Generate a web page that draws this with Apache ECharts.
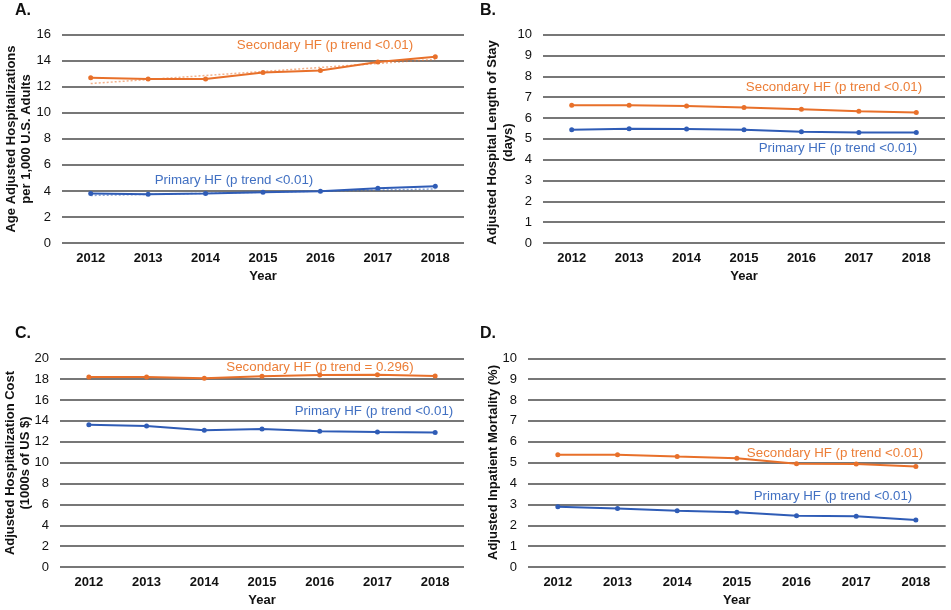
<!DOCTYPE html>
<html>
<head>
<meta charset="utf-8">
<script src="https://cdn.jsdelivr.net/npm/echarts@6/dist/echarts.min.js"></script>
<style>html,body{margin:0;padding:0;background:#fff}#c{width:951px;height:610px}</style>
</head>
<body>
<div id="c"></div>
<script>
const years = ['2012','2013','2014','2015','2016','2017','2018'];

// Panel A: hospitalizations per 1,000 adults
const aSecondary = [12.7, 12.6, 12.6, 13.1, 13.25, 13.9, 14.3];
const aPrimary   = [3.8, 3.75, 3.8, 3.9, 3.97, 4.2, 4.35];
const aSecondaryTrend = [12.25, null, null, null, null, null, 14.1];
const aPrimaryTrend   = [3.65, null, null, null, null, null, 4.15];
// Panel B: length of stay (days)
const bSecondary = [6.61, 6.61, 6.58, 6.51, 6.42, 6.32, 6.27];
const bPrimary   = [5.44, 5.49, 5.47, 5.44, 5.34, 5.31, 5.31];
// Panel C: cost (1000s of US $)
const cSecondary = [18.2, 18.2, 18.08, 18.27, 18.4, 18.43, 18.3];
const cPrimary   = [13.64, 13.51, 13.1, 13.23, 13.0, 12.94, 12.9];
// Panel D: mortality (%)
const dSecondary = [5.38, 5.38, 5.29, 5.21, 4.95, 4.94, 4.81];
const dPrimary   = [2.89, 2.80, 2.70, 2.62, 2.46, 2.43, 2.25];

const yTitles = [
  'Age Adjusted Hospitalizations\nper 1,000 U.S. Adults',
  'Adjusted Hospital Length of Stay\n(days)',
  'Adjusted Hospitalization Cost\n(1000s of US $)',
  'Adjusted Inpatient Mortality (%)'
];
const panelLetters = ['A.', 'B.', 'C.', 'D.'];
const secLabels = ['Secondary HF (p trend <0.01)', 'Secondary HF (p trend <0.01)', 'Secondary HF (p trend = 0.296)', 'Secondary HF (p trend <0.01)'];
const priLabels = ['Primary HF (p trend <0.01)', 'Primary HF (p trend <0.01)', 'Primary HF (p trend <0.01)', 'Primary HF (p trend <0.01)'];

const ORANGE = '#E8702A', BLUE = '#2F5CB6';
const ORANGE_T = '#EC7E37', BLUE_T = '#4170C2';
const GRIDC = '#777777';
const FONT = 'Liberation Sans, Arial, sans-serif';

const grids = [
  {left: 62, top: 34.7, width: 402, height: 208.3},
  {left: 543, top: 34.7, width: 402, height: 208.3},
  {left: 60, top: 358.3, width: 404, height: 208.7},
  {left: 528, top: 358.3, width: 417.7, height: 208.7}
];
const yMax = [16, 10, 20, 10];
const yInt = [2, 1, 2, 1];

const xAxes = grids.map((g, i) => ({
  type: 'category', gridIndex: i, data: years, boundaryGap: true,
  axisLine: {show: false}, axisTick: {show: false},
  axisLabel: {color: '#111', fontWeight: 'bold', fontSize: 13, fontFamily: FONT, margin: 9},
  name: 'Year', nameLocation: 'middle', nameGap: 27,
  nameTextStyle: {color: '#111', fontWeight: 'bold', fontSize: 13, fontFamily: FONT}
}));
const yAxes = grids.map((g, i) => ({
  type: 'value', gridIndex: i, min: 0, max: yMax[i], interval: yInt[i],
  axisLine: {show: false}, axisTick: {show: false},
  axisLabel: {color: '#111', fontSize: 13, fontFamily: FONT, margin: 11},
  splitLine: {show: true, lineStyle: {color: GRIDC, width: 2}}
}));

function line(i, data, color, z) {
  return {
    type: 'line', xAxisIndex: i, yAxisIndex: i, data: data,
    symbol: 'circle', symbolSize: 5, z: z || 3,
    lineStyle: {color: color, width: 2}, itemStyle: {color: color},
    animation: false
  };
}
function trend(i, data, color) {
  return {
    type: 'line', xAxisIndex: i, yAxisIndex: i, data: data, connectNulls: true,
    symbol: 'none', z: 2,
    lineStyle: {color: color, width: 1.5, type: [2, 2], opacity: 0.55},
    animation: false
  };
}

const series = [
  trend(0, aSecondaryTrend, ORANGE), trend(0, aPrimaryTrend, BLUE),
  line(0, aSecondary, ORANGE), line(0, aPrimary, BLUE),
  line(1, bSecondary, ORANGE), line(1, bPrimary, BLUE),
  line(2, cSecondary, ORANGE), line(2, cPrimary, BLUE),
  line(3, dSecondary, ORANGE), line(3, dPrimary, BLUE)
];

const letterPos = [[15, 12], [480, 12], [15, 335], [480, 335]];
const yTitlePos = [[19, 139], [500.5, 142.5], [18, 463], [493, 462.5]];
const secPos = [[325, 45], [834, 87], [320, 367], [835, 453]];
const priPos = [[234, 180], [838, 148], [374, 411], [833, 496]];

const graphics = [];
for (let i = 0; i < 4; i++) {
  graphics.push({type: 'text', left: letterPos[i][0], top: letterPos[i][1] - 9,
    style: {text: panelLetters[i], font: 'bold 16px ' + FONT, fill: '#111'}});
  graphics.push({type: 'text', x: yTitlePos[i][0], y: yTitlePos[i][1], rotation: Math.PI / 2,
    style: {text: yTitles[i], font: 'bold 13px ' + FONT, fill: '#111', align: 'center', verticalAlign: 'middle', lineHeight: 15.5}});
  graphics.push({type: 'text', x: secPos[i][0], y: secPos[i][1],
    style: {text: secLabels[i], font: '13.3px ' + FONT, fill: ORANGE_T, align: 'center', verticalAlign: 'middle'}});
  graphics.push({type: 'text', x: priPos[i][0], y: priPos[i][1],
    style: {text: priLabels[i], font: '13.3px ' + FONT, fill: BLUE_T, align: 'center', verticalAlign: 'middle'}});
}

const chart = echarts.init(document.getElementById('c'), null, {renderer: 'canvas'});
chart.setOption({
  animation: false,
  backgroundColor: '#fff',
  grid: grids.map(g => Object.assign({containLabel: false}, g)),
  xAxis: xAxes, yAxis: yAxes, series: series, graphic: graphics
});
</script>
</body>
</html>
